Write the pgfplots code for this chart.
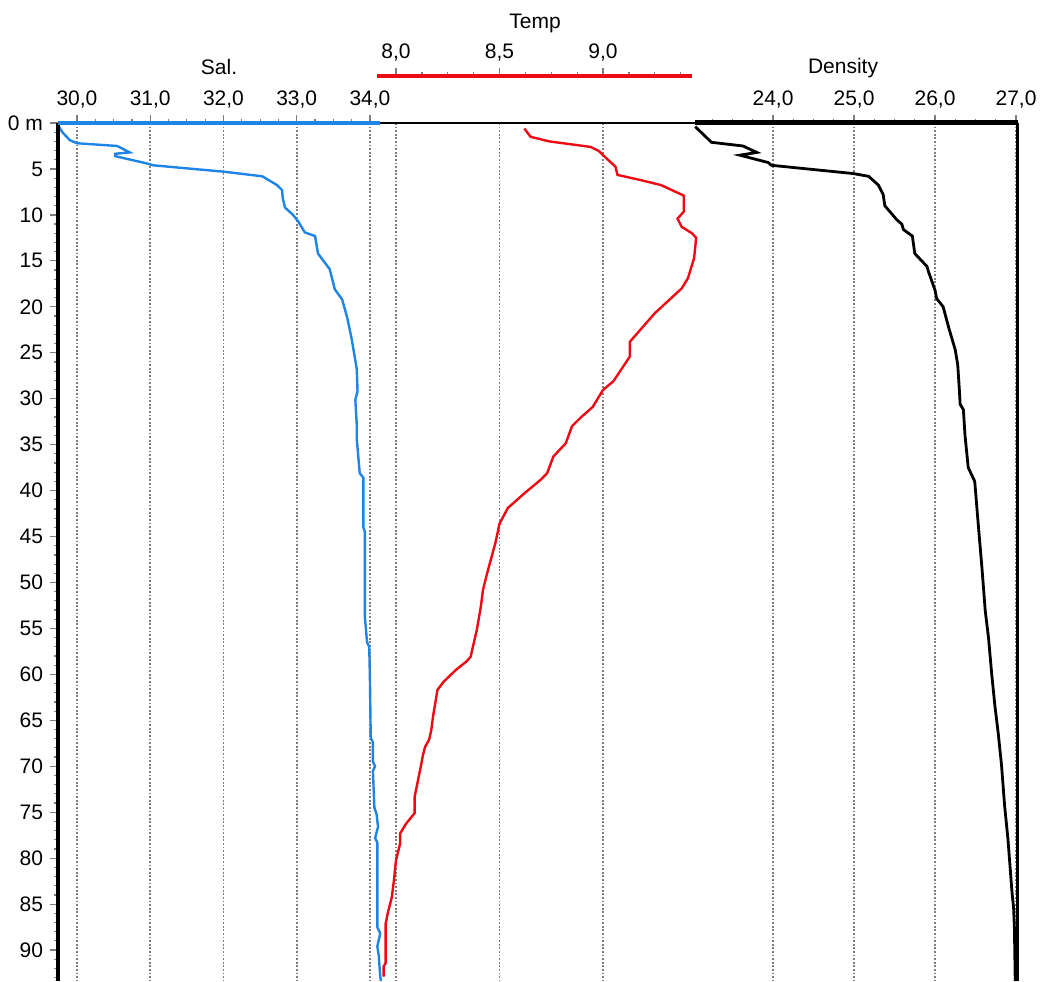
\documentclass[border=0pt]{standalone}
\usepackage{fontspec}
\setmainfont{Liberation Sans}
\usepackage{pgfplots}
\usepackage{pgfplotstable}
\pgfplotsset{compat=1.18}

\definecolor{salblue}{RGB}{30,132,230}
\definecolor{tempred}{RGB}{238,10,20}
\definecolor{gridgray}{RGB}{125,125,125}

% depth profile
\pgfplotstableread{
depth sal
0.2 29.74
1.0 29.80
1.85 29.90
2.2 30.00
2.5 30.55
3.2 30.72
3.35 30.52
3.6 30.52
3.9 30.68
4.35 30.93
4.6 31.04
4.9 31.45
5.3 32.01
5.8 32.53
6.75 32.73
7.3 32.80
8.2 32.81
9.2 32.84
10.0 32.95
10.7 33.02
11.9 33.11
12.3 33.25
14.2 33.29
15.9 33.45
18.1 33.52
19.2 33.62
21.2 33.69
23.5 33.75
26.8 33.82
29.2 33.83
30.1 33.80
32.9 33.82
34.4 33.82
38.1 33.86
38.6 33.91
44.0 33.91
44.5 33.93
53.7 33.93
56.5 33.96
57.0 33.99
60.8 34.00
66.9 34.01
67.4 34.04
69.5 34.04
70.0 34.07
70.5 34.04
74.5 34.06
75.2 34.09
76.6 34.11
77.8 34.07
78.3 34.10
87.5 34.10
88.2 34.14
89.6 34.10
90.6 34.12
92.9 34.14
93.37 34.15
}\saltable

\pgfplotstableread{
depth temp
0.6 8.62
1.5 8.65
2.0 8.74
2.6 8.94
3.05 8.98
3.5 9.00
4.75 9.06
5.65 9.07
6.2 9.18
6.75 9.28
7.9 9.39
9.65 9.39
10.4 9.36
11.3 9.38
12.0 9.43
12.5 9.45
14.7 9.44
16.9 9.41
18.0 9.38
20.7 9.25
23.8 9.13
25.4 9.13
28.1 9.05
29.05 9.00
30.9 8.95
32.1 8.89
33.0 8.85
34.85 8.82
36.3 8.76
38.1 8.73
38.8 8.70
40.3 8.62
41.9 8.54
43.6 8.50
45.7 8.48
49.0 8.44
50.8 8.42
52.6 8.41
55.2 8.39
58.1 8.36
58.6 8.34
59.5 8.29
60.8 8.23
61.7 8.20
64.4 8.18
66.1 8.17
67.1 8.16
67.9 8.14
68.8 8.13
70.0 8.12
71.1 8.11
73.3 8.09
75.1 8.09
76.2 8.05
77.3 8.02
78.4 8.02
80.2 8.00
82.4 7.99
84.2 7.98
86.0 7.96
87.1 7.95
91.4 7.95
91.8 7.94
92.9 7.94
}\temptable

\pgfplotstableread{
depth dens
0.4 23.04
2.1 23.24
2.5 23.63
3.2 23.80
3.5 23.59
4.3 23.94
4.6 23.98
5.5 24.99
5.8 25.18
6.75 25.30
7.8 25.36
9.0 25.38
10.55 25.53
11.0 25.59
11.6 25.61
12.3 25.72
14.2 25.75
15.6 25.90
16.2 25.92
18.2 26.00
19.1 26.02
20.0 26.10
22.3 26.17
24.7 26.25
26.3 26.28
29.0 26.30
30.6 26.31
31.2 26.35
34.0 26.37
37.5 26.41
39.0 26.49
43.3 26.53
48.5 26.58
53.1 26.62
56.0 26.66
60.0 26.70
63.5 26.74
66.4 26.78
69.8 26.82
74.4 26.86
77.9 26.90
83.7 26.95
85.4 26.97
87.7 26.98
93.37 26.99
}\denstable

\pgfplotsset{
  profile/.style={
    scale only axis,
    width=479.5pt, height=429pt,
    at={(0,0)}, anchor=south west,
    y dir=reverse, ymin=0, ymax=93.37,
    axis line style={draw=none},
    xtick pos=right, xticklabel pos=right,
    tick align=outside,
    major tick length=4pt, minor tick length=1.8pt,
    tick style={gridgray, line width=0.6pt},
    tick label style={font=\fontsize{10.5}{12}\selectfont},
    grid style={gridgray, line width=0.9pt, dash pattern=on 0.9pt off 0.9pt},
    /pgf/number format/fixed,
    /pgf/number format/fixed zerofill,
    /pgf/number format/precision=1,
    /pgf/number format/use comma,
    /pgf/number format/assume math mode=true,
  }
}

\begin{document}
\begin{tikzpicture}
\useasboundingbox (-29pt,0) rectangle (492pt,490.5pt);

% salinity
\begin{axis}[profile,
    xmin=29.741, xmax=42.833,
    xtick={30,31,32,33,34},
    minor xtick={30.25,30.5,30.75,31.25,31.5,31.75,32.25,32.5,32.75,33.25,33.5,33.75},
    xmajorgrids,
    ytick={0,5,...,90},
    yticklabels={0 m,5,10,15,20,25,30,35,40,45,50,55,60,65,70,75,80,85,90},
    minor ytick={0,1,...,93},
    ytick pos=left, yticklabel pos=left,
]
\addplot[salblue, line width=1.2pt] table[x=sal, y=depth] {\saltable};
\end{axis}

% temperature (axis line sits higher)
\begin{axis}[profile,
    height=452.5pt, ymin=-5.115, ymax=93.37,
    xmin=6.367, xmax=11.0,
    xtick={8,8.5,9},
    minor xtick={8.125,8.25,8.375,8.625,8.75,8.875,9.125,9.25,9.375},
    ytick=\empty,
]
\foreach \g in {8,8.5,9}{
  \edef\tmp{\noexpand\draw[gridgray, line width=0.9pt, dash pattern=on 0.9pt off 0.9pt] (axis cs:\g,0) -- (axis cs:\g,93.37);}
  \tmp
}
\addplot[tempred, line width=1.2pt] table[x=temp, y=depth] {\temptable};
\end{axis}

% density
\begin{axis}[profile,
    xmin=15.173, xmax=27.012,
    xtick={24,25,26,27},
    minor xtick={23.25,23.5,23.75,24.25,24.5,24.75,25.25,25.5,25.75,26.25,26.5,26.75},
    xmajorgrids,
    ytick=\empty,
]
\addplot[black, line width=1.4pt] table[x=dens, y=depth] {\denstable};
\end{axis}

% frame and axis segments
\draw[black, line width=2.2pt] (0,0) -- (0,429pt);
\draw[black, line width=1.5pt] (479.5pt,0) -- (479.5pt,429pt);
\draw[black, line width=1pt] (161pt,429pt) -- (318.5pt,429pt);
\draw[salblue, line width=2pt] (0,429pt) -- (161pt,429pt);
\draw[black, line width=2.5pt] (318.5pt,429pt) -- (480.2pt,429pt);
\draw[tempred, line width=2pt] (159.5pt,452.5pt) -- (317pt,452.5pt);

\node[anchor=base, font=\fontsize{10.5}{12}\selectfont, inner sep=0] at (80.5pt,453pt) {Sal.};
\node[anchor=base, font=\fontsize{10.5}{12}\selectfont, inner sep=0] at (238.5pt,476.3pt) {Temp};
\node[anchor=base, font=\fontsize{10.5}{12}\selectfont, inner sep=0] at (392.5pt,453.5pt) {Density};
\end{tikzpicture}
\end{document}
